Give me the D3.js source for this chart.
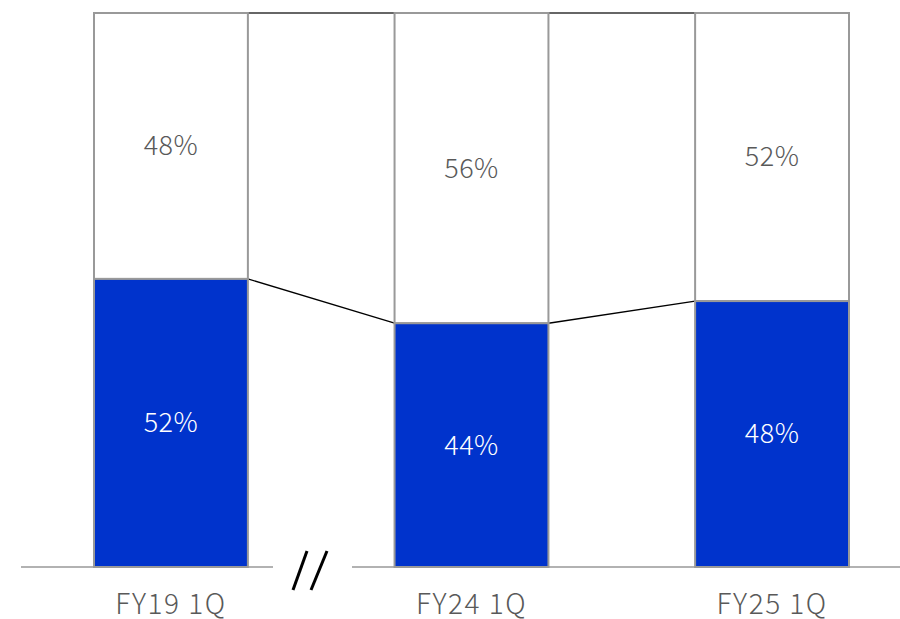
<!DOCTYPE html>
<html>
<head>
<meta charset="utf-8">
<script src="https://cdn.jsdelivr.net/npm/d3@7"></script>
<style>
  body { margin: 0; background: #fff; }
  text { font-family: "Noto Sans CJK JP", "Noto Sans", sans-serif; font-weight: 300; }
</style>
</head>
<body>
<svg id="chart" width="900" height="619"></svg>
<script>
const categories = ["FY19 1Q", "FY24 1Q", "FY25 1Q"];
const lowerShare = [52, 44, 48];   // blue part
const upperShare = [48, 56, 52];   // white part

const svg = d3.select("svg#chart");

const x = d3.scaleBand()
  .domain(categories)
  .range([94, 849])
  .paddingInner(0.488)
  .paddingOuter(0);

const y = d3.scaleLinear().domain([0, 100]).range([567, 13]);

const blue = "#0033cc";
const grey = "#999999";

// baseline with break
svg.append("line").attr("x1", 21).attr("x2", 273).attr("y1", y(0)).attr("y2", y(0))
  .attr("stroke", "#999").attr("stroke-width", 1.3);
svg.append("line").attr("x1", 352).attr("x2", 900).attr("y1", y(0)).attr("y2", y(0))
  .attr("stroke", "#999").attr("stroke-width", 1.3);
svg.append("line").attr("x1", 293).attr("y1", 590).attr("x2", 307).attr("y2", 551)
  .attr("stroke", "#000").attr("stroke-width", 3);
svg.append("line").attr("x1", 311).attr("y1", 590).attr("x2", 327).attr("y2", 551)
  .attr("stroke", "#000").attr("stroke-width", 3);

// connectors between bars
for (let i = 0; i < categories.length - 1; i++) {
  const x1 = x(categories[i]) + x.bandwidth();
  const x2 = x(categories[i + 1]);
  svg.append("line").attr("x1", x1).attr("x2", x2)
    .attr("y1", y(100)).attr("y2", y(100))
    .attr("stroke", "#333").attr("stroke-width", 1.5);
  svg.append("line").attr("x1", x1).attr("x2", x2)
    .attr("y1", y(lowerShare[i])).attr("y2", y(lowerShare[i + 1]))
    .attr("stroke", "#000").attr("stroke-width", 1.3);
}

// upper (white) segments
svg.selectAll("rect.upper").data(categories).join("rect")
  .attr("class", "upper")
  .attr("x", d => x(d))
  .attr("width", x.bandwidth())
  .attr("y", (d, i) => y(100))
  .attr("height", (d, i) => y(lowerShare[i]) - y(100))
  .attr("fill", "#fff")
  .attr("stroke", grey)
  .attr("stroke-width", 2);

// lower (blue) segments
svg.selectAll("rect.lower").data(categories).join("rect")
  .attr("class", "lower")
  .attr("x", d => x(d))
  .attr("width", x.bandwidth())
  .attr("y", (d, i) => y(lowerShare[i]))
  .attr("height", (d, i) => y(0) - y(lowerShare[i]))
  .attr("fill", blue)
  .attr("stroke", grey)
  .attr("stroke-width", 2);

// value labels
svg.selectAll("text.upperLabel").data(categories).join("text")
  .attr("class", "upperLabel")
  .attr("x", d => x(d) + x.bandwidth() / 2)
  .attr("y", (d, i) => (y(100) + y(lowerShare[i])) / 2)
  .attr("dy", "0.35em")
  .attr("text-anchor", "middle")
  .attr("fill", "#595959")
  .style("font-size", "27px")
  .style("letter-spacing", "0.5px")
  .text((d, i) => upperShare[i] + "%");

svg.selectAll("text.lowerLabel").data(categories).join("text")
  .attr("class", "lowerLabel")
  .attr("x", d => x(d) + x.bandwidth() / 2)
  .attr("y", (d, i) => (y(0) + y(lowerShare[i])) / 2)
  .attr("dy", "0.35em")
  .attr("text-anchor", "middle")
  .attr("fill", "#ffffff")
  .style("font-size", "27px")
  .style("letter-spacing", "0.5px")
  .text((d, i) => lowerShare[i] + "%");

// category labels
svg.selectAll("text.cat").data(categories).join("text")
  .attr("class", "cat")
  .attr("x", d => x(d) + x.bandwidth() / 2)
  .attr("y", 604)
  .attr("dy", "0.35em")
  .attr("text-anchor", "middle")
  .attr("fill", "#595959")
  .style("font-size", "28px")
  .style("letter-spacing", "1.5px")
  .text(d => d);
</script>
</body>
</html>
